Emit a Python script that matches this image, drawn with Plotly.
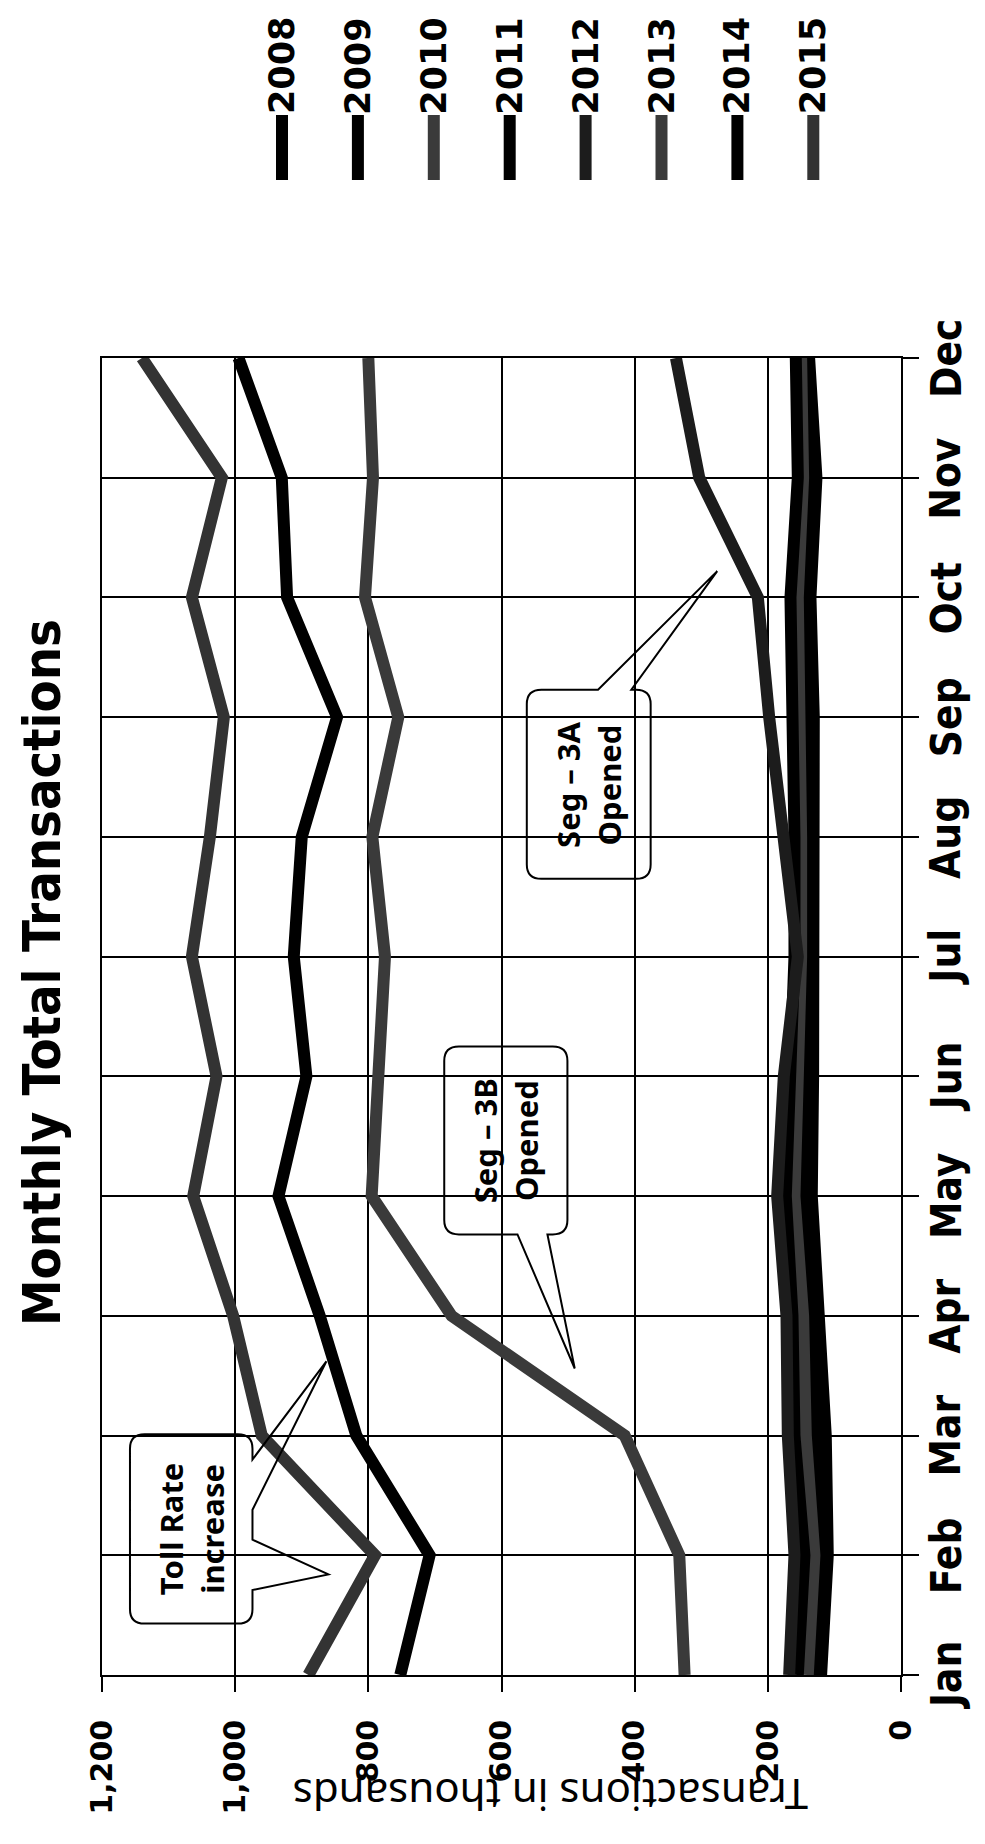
import plotly.graph_objects as go

# ---------------- data ----------------
months = ["Jan", "Feb", "Mar", "Apr", "May", "Jun", "Jul", "Aug", "Sep", "Oct", "Nov", "Dec"]
years = ["2008", "2009", "2010", "2011", "2012", "2013", "2014", "2015"]

y2008 = [120, 110, 113, 122, 134, 132, 131, 129, 131, 136, 127, 138]
y2009 = [130, 119, 130, 132, 145, 142, 142, 142, 143, 146, 138, 145]
y2010 = [140, 130, 143, 147, 160, 154, 150, 150, 152, 155, 147, 150]
y2011 = [155, 145, 160, 163, 173, 167, 160, 160, 163, 166, 155, 158]
y2012 = [168, 160, 170, 172, 186, 176, 155, 177, 198, 215, 303, 338]
y2013 = [325, 333, 415, 675, 795, 783, 775, 794, 755, 805, 793, 800]
y2014 = [752, 708, 818, 873, 935, 893, 912, 900, 847, 922, 930, 995]
y2015 = [890, 790, 960, 1003, 1063, 1028, 1065, 1038, 1017, 1065, 1020, 1140]
series = [y2008, y2009, y2010, y2011, y2012, y2013, y2014, y2015]

value_ticks = [0, 200, 400, 600, 800, 1000, 1200]
value_labels = ["0", "200", "400", "600", "800", "1,000", "1,200"]

title_text = "Monthly Total Transactions"
axis_title = "Transactions in thousands"
callout_texts = ["Toll Rate<br>increase", "Seg \u2013 3B<br>Opened", "Seg \u2013 3A<br>Opened"]

# ---------------- styles ----------------
colors = ["#000000", "#000000", "#3a3a3a", "#000000", "#1c1c1c", "#3a3a3a", "#000000", "#333333"]
W, H = 985, 1844
L, R, T, B = 94, 92, 350, 177
PW, PH = W - L - R, H - T - B
NARROW = "Liberation Sans Narrow, DejaVu Sans Condensed, Roboto"

def px2paper(px, py):
    return (px - L) / PW, (H - B - py) / PH

idx = list(range(len(months)))

fig = go.Figure()
for name, vals, col in zip(years, series, colors):
    fig.add_trace(go.Scatter(x=vals, y=idx, mode="lines", name=name,
                             line=dict(color=col, width=12), showlegend=False))

# ---------------- callouts (data coords: value, month index) ----------------
def callout(vL, vR, mB, mT, wedges, rv=22, rm=0.12):
    p = []
    def P(v, m):
        return f"{v:.2f},{m:.4f}"
    p.append("M " + P(vL - rv, mT))
    for b1, tip, b2 in wedges.get("top", []):
        p.append("L " + P(b1, mT)); p.append("L " + P(*tip)); p.append("L " + P(b2, mT))
    p.append("L " + P(vR + rv, mT))
    p.append("Q " + P(vR, mT) + " " + P(vR, mT - rm))
    for b1, tip, b2 in wedges.get("right", []):
        p.append("L " + P(vR, b1)); p.append("L " + P(*tip)); p.append("L " + P(vR, b2))
    p.append("L " + P(vR, mB + rm))
    p.append("Q " + P(vR, mB) + " " + P(vR + rv, mB))
    for b1, tip, b2 in wedges.get("bottom", []):
        p.append("L " + P(b1, mB)); p.append("L " + P(*tip)); p.append("L " + P(b2, mB))
    p.append("L " + P(vL - rv, mB))
    p.append("Q " + P(vL, mB) + " " + P(vL, mB + rm))
    p.append("L " + P(vL, mT - rm))
    p.append("Q " + P(vL, mT) + " " + P(vL - rv, mT))
    p.append("Z")
    return " ".join(p)

boxes = [
    dict(vL=1158, vR=974, mB=0.43, mT=2.01,
         wedges={"right": [(1.80, (863, 2.62), 1.38), (1.13, (860, 0.84), 0.71)]}),
    dict(vL=686, vR=501, mB=3.68, mT=5.25,
         wedges={"bottom": [(531, (490, 2.56), 576)]}),
    dict(vL=562, vR=376, mB=6.65, mT=8.23,
         wedges={"top": [(455, (276, 9.22), 405)]}),
]
shapes = []
annotations = []
for bx, txt in zip(boxes, callout_texts):
    shapes.append(dict(type="path", xref="x", yref="y",
                       path=callout(bx["vL"], bx["vR"], bx["mB"], bx["mT"], bx["wedges"]),
                       line=dict(color="black", width=2), fillcolor="rgba(0,0,0,0)"))
    annotations.append(dict(x=(bx["vL"] + bx["vR"]) / 2, y=(bx["mB"] + bx["mT"]) / 2,
                            xref="x", yref="y", text=txt, showarrow=False, textangle=-90,
                            font=dict(family="Noto Sans", size=31, color="black", weight="bold")))

# ---------------- month labels (rotated, right of the plot) ----------------
mx, _ = px2paper(938, 0)
for i, m in enumerate(months):
    annotations.append(dict(x=mx, y=i, xref="paper", yref="y", text=m, showarrow=False,
                            textangle=-90, xanchor="center", yanchor="middle",
                            font=dict(family=NARROW, size=42, color="black", weight="bold")))

# ---------------- custom rotated legend ----------------
for i, (name, col) in enumerate(zip(years, colors)):
    cx = 274 + 75.9 * i
    x0, y0 = px2paper(cx, 172)
    x1, y1 = px2paper(cx, 107)
    shapes.append(dict(type="line", xref="paper", yref="paper", x0=x0, y0=y0, x1=x1, y1=y1,
                       line=dict(color=col, width=12)))
    tx, ty = px2paper(cx, 58)
    annotations.append(dict(x=tx, y=ty, xref="paper", yref="paper", text=name, showarrow=False,
                            textangle=-90, xanchor="center", yanchor="middle",
                            font=dict(family="DejaVu Sans", size=35, color="black", weight="bold")))

# title (rotated) and axis title (upside down)
tx, ty = px2paper(34, 965)
annotations.append(dict(x=tx, y=ty, xref="paper", yref="paper", text=title_text, showarrow=False,
                        textangle=-90, xanchor="center", yanchor="middle",
                        font=dict(family=NARROW, size=52, color="black", weight="bold")))
tx, ty = px2paper(543, 1788)
annotations.append(dict(x=tx, y=ty, xref="paper", yref="paper", text=axis_title, showarrow=False,
                        textangle=180, xanchor="center", yanchor="middle",
                        font=dict(family="Noto Sans", size=42, color="black")))

fig.update_layout(
    width=W, height=H,
    margin=dict(l=L, r=R, t=T, b=B, pad=0),
    paper_bgcolor="white", plot_bgcolor="white",
    shapes=shapes, annotations=annotations,
    showlegend=False,
    xaxis=dict(range=[1200, 0], tickvals=value_ticks, ticktext=value_labels,
               showgrid=True, gridcolor="black", gridwidth=1.5,
               showline=True, mirror=True, linecolor="black", linewidth=1.5,
               ticks="outside", ticklen=15, tickwidth=1.5, tickcolor="black",
               tickangle=-90, ticklabelstandoff=16, automargin=False, zeroline=False,
               tickfont=dict(family="DejaVu Sans", size=30, color="black", weight="bold")),
    yaxis=dict(range=[0, 11], tickvals=idx, showticklabels=False, side="right",
               showgrid=True, gridcolor="black", gridwidth=1.5,
               showline=True, mirror=True, linecolor="black", linewidth=1.5,
               ticks="outside", ticklen=16, tickwidth=1.5, tickcolor="black",
               automargin=False, zeroline=False),
)

fig.write_html("out.html")
